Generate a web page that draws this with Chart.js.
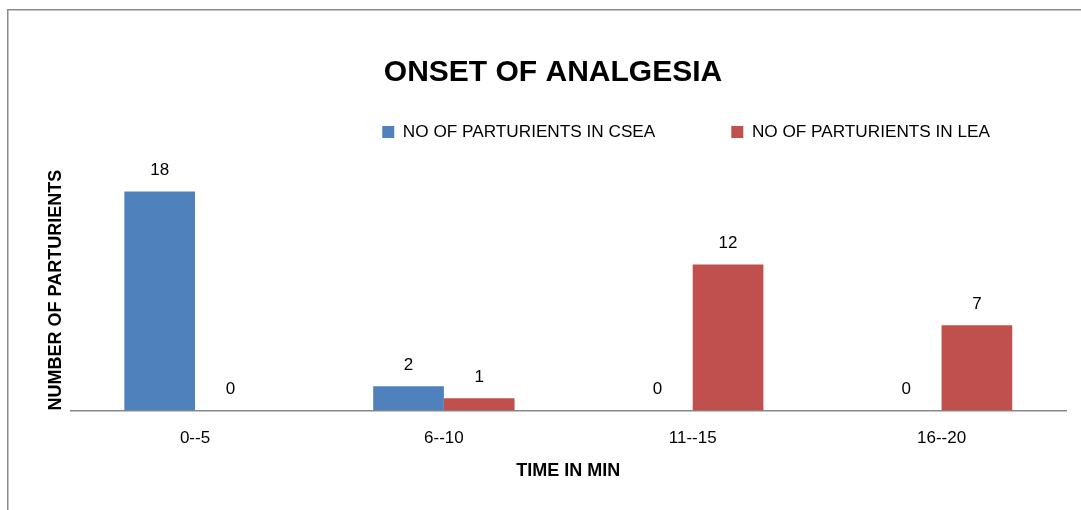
<!DOCTYPE html>
<html>
<head>
<meta charset="utf-8">
<script src="https://cdn.jsdelivr.net/npm/chart.js@4"></script>
<style>
  body { margin: 0; background: #fff; }
  canvas { display: block; }
</style>
</head>
<body>
<canvas id="onsetChart" width="1081" height="510"></canvas>
<script>
// onset of analgesia
var categories = ['0--5', '6--10', '11--15', '16--20'];
var cseaValues = [18, 2, 0, 0];
var leaValues = [0, 1, 12, 7];
var seriesNames = ['NO OF PARTURIENTS IN CSEA', 'NO OF PARTURIENTS IN LEA'];

var blue = '#4F81BD';
var red = '#C0504D';
var fontName = "'Liberation Sans', Arial, sans-serif";

Chart.defaults.color = '#000';
Chart.defaults.font.family = fontName;

// grey frame round the chart, cut off at right and bottom like the original
var framePlugin = {
	id: 'frame',
	beforeDraw: function(chart) {
		var ctx = chart.ctx;
		ctx.save();
		ctx.strokeStyle = '#8c8c8c';
		ctx.lineWidth = 1.5;
		ctx.strokeRect(7.75, 9.75, 2000, 1000);
		ctx.restore();
	}
};

// value labels above the bars
var valueLabels = {
	id: 'valueLabels',
	afterDatasetsDraw: function(chart) {
		var ctx = chart.ctx;
		ctx.save();
		ctx.font = '17px ' + fontName;
		ctx.fillStyle = '#000';
		ctx.textAlign = 'center';
		ctx.textBaseline = 'middle';
		chart.data.datasets.forEach(function(ds, i) {
			var meta = chart.getDatasetMeta(i);
			meta.data.forEach(function(bar, j) {
				ctx.fillText(String(ds.data[j]), bar.x, bar.y - 21);
			});
		});
		ctx.restore();
	}
};

var ctx = document.getElementById('onsetChart').getContext('2d');

var chart = new Chart(ctx, {
	type: 'bar',
	data: {
		labels: categories,
		datasets: [{
			label: seriesNames[0],
			data: cseaValues,
			backgroundColor: blue,
			borderWidth: 0
		}, {
			label: seriesNames[1],
			data: leaValues,
			backgroundColor: red,
			borderWidth: 0
		}]
	},
	options: {
		responsive: false,
		animation: false,
		layout: {
			padding: { top: 0, left: 40, right: 15, bottom: 24.5 }
		},
		datasets: {
			bar: {
				categoryPercentage: 0.568,
				barPercentage: 1
			}
		},
		plugins: {
			title: {
				display: true,
				text: 'ONSET OF ANALGESIA',
				font: { size: 30, weight: 'bold' },
				padding: { top: 55, bottom: -43.6 }
			},
			legend: {
				display: true,
				align: 'end',
				labels: {
					boxWidth: 12,
					boxHeight: 12,
					padding: 76,
					font: { size: 17.2 }
				}
			},
			tooltip: { enabled: false }
		},
		scales: {
			x: {
				grid: { display: false, drawTicks: false },
				border: { display: true, color: '#888888', width: 1.5 },
				ticks: { padding: 18, font: { size: 17 } },
				title: {
					display: true,
					text: 'TIME IN MIN',
					font: { size: 18, weight: 'bold' },
					padding: { top: -7, bottom: 4 }
				}
			},
			y: {
				min: 0,
				max: 21.35,
				grid: { display: false, drawTicks: false },
				border: { display: false },
				ticks: { display: false },
				title: {
					display: true,
					text: 'NUMBER OF PARTURIENTS',
					align: 'start',
					font: { size: 18, weight: 'bold' },
					padding: { top: 5, bottom: 4 }
				}
			}
		}
	},
	plugins: [framePlugin, valueLabels]
});
</script>
</body>
</html>
